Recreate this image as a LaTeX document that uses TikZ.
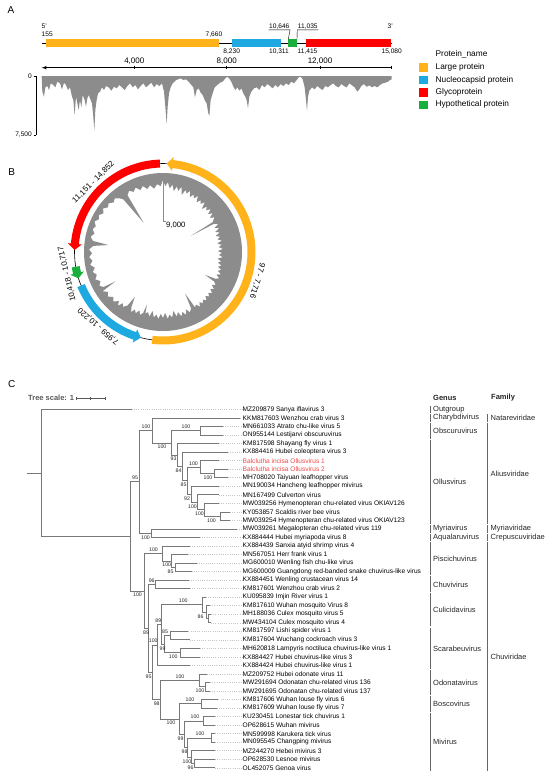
\documentclass[tikz,border=0pt]{standalone}
\usepackage{fontspec}
\setmainfont{Liberation Sans}
\usetikzlibrary{arrows,positioning}
\definecolor{colLarge}{RGB}{255,178,26}
\definecolor{colNucleo}{RGB}{30,170,225}
\definecolor{colGlyco}{RGB}{255,0,0}
\definecolor{colHypo}{RGB}{25,175,60}
\definecolor{covgray}{RGB}{140,140,140}
\definecolor{treegray}{RGB}{120,120,120}
\definecolor{redleaf}{RGB}{240,70,70}

\tikzset{
  panel/.style={font=\fontsize{10}{12}\selectfont, inner sep=0pt},
  small/.style={font=\fontsize{6.6}{7}\selectfont, inner sep=0.5pt},
  axlab/.style={font=\fontsize{8}{9}\selectfont, inner sep=0.5pt},
  legtext/.style={font=\fontsize{8.3}{9}\selectfont, inner sep=0.5pt, anchor=west},
  swatch/.style={minimum width=9pt, minimum height=8.5pt, inner sep=0pt},
  genebox/.style={minimum height=8pt, inner sep=0pt, outer sep=0pt, anchor=west},
  glab/.style={font=\fontsize{8}{9}\selectfont, inner sep=1pt, anchor=south},
  branch/.style={draw=treegray, line width=0.7pt},
  leader/.style={draw=gray!45, line width=0.5pt, dash pattern=on 1pt off 1.2pt},
  leaf/.style={font=\fontsize{6.6}{7}\selectfont, inner sep=0.5pt, anchor=west},
  boot/.style={font=\fontsize{5.2}{6}\selectfont, inner sep=0pt, text=black!85},
  grp/.style={font=\fontsize{7.5}{8}\selectfont, inner sep=0.5pt, anchor=west, text=black!85},
  grpbar/.style={draw=black!60, line width=0.8pt}
}

\begin{document}
\begin{tikzpicture}[x=1pt,y=-1pt]
\useasboundingbox (0,0) rectangle (550,777);

% panel letters
\node[panel] (pA) at (11,10) {A};
\node[panel] (pB) at (11.7,171.7) {B};
\node[panel] (pC) at (11.7,384) {C};

% ---------- A: genome map ----------
\coordinate (g5) at (41.7,43.3);
\coordinate (g3) at (391.7,43.3);
\draw[line width=0.6pt] (g5) -- (g3);
\node[genebox, fill=colLarge, minimum width=173.4pt] (gLarge) at (45.6,43.3) {};
\node[genebox, fill=colNucleo, minimum width=48.2pt] (gNucleo) at (232.3,43.3) {};
\node[genebox, fill=colHypo, minimum width=8.8pt] (gHypo) at (288.2,43.3) {};
\node[genebox, fill=colGlyco, minimum width=85.2pt] (gGlyco) at (305.8,43.3) {};

\node[small, anchor=west] (five) at (41,26) {5'};
\node[small, anchor=west] (s155) at (41,34.3) {155};
\node[small] (s7660) at (214,34.3) {7,660};
\node[small, anchor=east] (three) at (393.5,26) {3'};
\node[small] (s10646) at (279.3,26.5) {10,646};
\node[small] (s11035) at (307.8,26.5) {11,035};
\draw[line width=0.4pt] (s10646.south west) -- (s10646.south east) -- (gHypo.north west);
\draw[line width=0.4pt] (s11035.south east) -- (s11035.south west) -- (gHypo.north east);
\node[small] (s8230) at (231.7,52) {8,230};
\node[small] (s10311) at (279,52) {10,311};
\node[small] (s11415) at (307.5,52) {11,415};
\node[small] (s15080) at (391.7,52) {15,080};

% position axis
\coordinate (ax0) at (41.7,67.7);
\coordinate (ax1) at (391.7,67.7);
\draw[latex-, line width=0.6pt] (ax0) -- (ax1);
\foreach \x/\lab in {134.3/{4,000}, 226.7/{8,000}, 320/{12,000}} {
  \draw[line width=0.5pt] (\x,65.5) -- (\x,68.5);
  \node[axlab] at (\x,61.2) {\lab};
}
\draw[line width=0.5pt] (391.7,65.5) -- (391.7,68.5);

% coverage
\begin{scope}[xscale=1/3, yscale=1/3]
\fill[covgray] (125,228) -- (127,275) -- (132,290) -- (136,262) -- (142,258) -- (147,270) -- (152,250)
  -- (160,255) -- (166,262) -- (172,245) -- (180,250) -- (186,268) -- (192,248) -- (198,255)
  -- (204,270) -- (210,262) -- (216,290) -- (220,300) -- (224,345) -- (228,290) -- (232,310)
  -- (236,330) -- (240,300) -- (244,322) -- (248,285) -- (254,300) -- (258,320) -- (262,295)
  -- (266,285) -- (272,300) -- (276,310) -- (280,350) -- (283,392) -- (286,330) -- (290,300)
  -- (294,280) -- (300,275) -- (306,262) -- (312,270) -- (318,258) -- (326,262) -- (334,272)
  -- (342,260) -- (350,265) -- (358,255) -- (366,262) -- (374,270) -- (382,258) -- (390,250)
  -- (398,262) -- (406,255) -- (414,268) -- (422,258) -- (430,250) -- (438,262) -- (446,255)
  -- (454,248) -- (462,262) -- (470,252) -- (478,258) -- (486,250) -- (492,275) -- (496,320)
  -- (500,372) -- (503,320) -- (507,280) -- (512,262) -- (518,250) -- (526,242) -- (534,238)
  -- (542,235) -- (550,240) -- (558,238) -- (566,245) -- (574,255) -- (580,262) -- (585,292)
  -- (590,270) -- (596,265) -- (602,278) -- (608,285) -- (614,300) -- (620,310) -- (625,340)
  -- (628,348) -- (632,300) -- (638,280) -- (644,262) -- (652,255) -- (660,248) -- (668,245)
  -- (676,235) -- (682,230) -- (688,236) -- (694,245) -- (700,260) -- (706,270) -- (712,262)
  -- (718,272) -- (724,265) -- (730,280) -- (736,290) -- (740,300) -- (744,325) -- (748,290)
  -- (754,275) -- (762,265) -- (770,262) -- (778,270) -- (786,255) -- (794,262) -- (802,252)
  -- (810,258) -- (818,265) -- (826,255) -- (834,262) -- (842,252) -- (850,258) -- (858,250)
  -- (866,255) -- (874,245) -- (882,250) -- (890,240) -- (896,232) -- (902,230) -- (908,238)
  -- (914,262) -- (918,300) -- (921,332) -- (924,290) -- (928,272) -- (936,262) -- (944,268)
  -- (952,258) -- (960,265) -- (968,270) -- (976,258) -- (984,262) -- (992,255) -- (1000,250)
  -- (1008,258) -- (1016,262) -- (1024,252) -- (1032,258) -- (1040,262) -- (1048,250)
  -- (1056,256) -- (1064,262) -- (1072,275) -- (1078,268) -- (1084,258) -- (1092,252)
  -- (1100,260) -- (1108,256) -- (1116,262) -- (1124,258) -- (1132,262) -- (1140,255)
  -- (1148,250) -- (1156,248) -- (1164,245) -- (1170,240) -- (1175,238) -- (1175,228) -- cycle;
\end{scope}
\coordinate (cv0) at (36,76);
\coordinate (cv1) at (36,135);
\draw[line width=0.6pt] (cv0) -- (cv1);
\draw[line width=0.6pt] (33.5,76) -- (cv0);
\draw[line width=0.6pt] (33.5,135) -- (cv1);
\node[small, anchor=east] (c0) at (32.5,76) {0};
\node[small, anchor=east] (c7500) at (32.5,134.5) {7,500};

% legend
\node[legtext] (legT) at (435,54) {Protein\_name};
\node[swatch, fill=colLarge] (swLarge) at (423.8,67.5) {};
\node[swatch, fill=colNucleo] (swNucleo) at (423.8,80.2) {};
\node[swatch, fill=colGlyco] (swGlyco) at (423.8,92.6) {};
\node[swatch, fill=colHypo] (swHypo) at (423.8,104.8) {};
\node[legtext, right=6.5pt of swLarge] (tLarge) {Large protein};
\node[legtext, right=6.5pt of swNucleo] (tNucleo) {Nucleocapsid protein};
\node[legtext, right=6.5pt of swGlyco] (tGlyco) {Glycoprotein};
\node[legtext, right=6.5pt of swHypo] (tHypo) {Hypothetical protein};

% ---------- B: circular map ----------
\begin{scope}[shift={(163,252)}, yscale=-1]
\fill[covgray, even odd rule] (0,0) circle[radius=79] (90:72)
  \foreach \a/\r in {88/66, 86/70, 84/64, 82/68, 80/62, 78/67, 76/63, 74/68, 72/60, 70/66,
    68/63, 66/67, 64/61, 62/65, 60/62, 58/66, 56/60, 54/64, 52/61, 50/65, 48/58, 46/63,
    44/60, 42/64, 40/59, 38/63, 36/58, 34/62, 31/58, 30/32, 29/58, 27/62, 25/57, 23/61,
    21/56, 19/60, 17/55, 15/59, 13/56, 11/60, 9/55, 7/59, 5/56, 3/60, 1/55, -1/59, -3/56,
    -5/60, -7/55, -9/59, -11/56, -13/60, -15/57, -17/61, -19/58, -21/62, -23/58, -25/62,
    -27/59, -28.5/48, -30/59, -32/62, -34/59, -36/63, -38/60, -40/64, -42/61, -44/64,
    -46/61, -48/65, -50/62, -52/65, -54/62, -56/66, -58/62, -60/64, -62/47, -63.5/63,
    -66/66, -68/62, -70/67, -72/63, -74/67, -76/62, -78/66, -80/60, -82/66, -84/63,
    -86/67, -88/61, -90/66, -92/62, -94/67, -96/63, -98/66, -100/60, -102/66, -104/62,
    -106/64, -107/55, -108/64, -110/67, -112/63, -114/67, -116/64, -118/68, -120/63,
    -122/53, -123.5/64, -126/68, -128/65, -130/70, -132/66, -135/70, -138/67, -141/71,
    -144/68, -147/72, -148.3/56, -149.5/69, -152/72, -155/69, -158/73, -161/70, -164/73,
    -167/70, -170/74, -173/71, -176/74, -179/71, -182/74, -185/70, -187.3/55, -189/71,
    -192/74, -195/71, -198/74, -201/72, -204/75, -207/72, -210/74, -213/71, -216/74,
    -219/71, -222/73, -225/70, -228/72, -231/69, -233/66, -236.5/35, -238/67, -241/70,
    -244/67, -247/70, -250/66, -253/69, -256/65, -259/68, -262/64, -265/68, -268/66} { -- (\a:\r) }
  -- cycle;
\draw[black!45, line width=0.5pt] (90:79) -- (90:31) -- (2.5,31);
\node[font=\fontsize{7.7}{8}\selectfont, inner sep=0.5pt, anchor=west] (ax9000) at (2.5,27) {9,000};
\draw[line width=0.6pt] (0,0) circle[radius=88.5];
\fill[colLarge] (-97:84.5) arc[start angle=-97, end angle=83.6, radius=84.5] -- (83.6:81.5)
  -- (87.6:88.5) -- (83.6:95.5) -- (83.6:92.5) arc[start angle=83.6, end angle=-97, radius=92.5] -- cycle;
\fill[colGlyco] (92:84.5) arc[start angle=92, end angle=174.7, radius=84.5] -- (174.7:81.5)
  -- (178.7:88.5) -- (174.7:95.5) -- (174.7:92.5) arc[start angle=174.7, end angle=92, radius=92.5] -- cycle;
\fill[colHypo] (189.6:84.5) arc[start angle=189.6, end angle=193.8, radius=84.5] -- (193.8:81.5)
  -- (197.3:88.5) -- (193.8:95.5) -- (193.8:92.5) arc[start angle=193.8, end angle=189.6, radius=92.5] -- cycle;
\fill[colNucleo] (202.3:84.5) arc[start angle=202.3, end angle=251.5, radius=84.5] -- (251.5:81.5)
  -- (255.5:88.5) -- (251.5:95.5) -- (251.5:92.5) arc[start angle=251.5, end angle=202.3, radius=92.5] -- cycle;
\node[glab, rotate=45] (bGlyco) at (135:94) {11,151 - 14,852};
\node[glab, rotate=103] (bHypo) at (193:94) {10,418 - 10,717};
\node[glab, rotate=139] (bNucleo) at (-131:94) {7,959 - 10,220};
\node[glab, rotate=-107] (bLarge) at (-17:94) {97 - 7,716};
\end{scope}

% ---------- C: tree ----------
\node[font=\bfseries\fontsize{7.5}{8}\selectfont, text=black!65, inner sep=0.5pt, anchor=west] (tscale) at (27.5,398.3) {Tree scale: 1};
\coordinate (sb0) at (76.5,398.3);
\coordinate (sb1) at (105,398.3);
\draw[black!65, line width=0.6pt] (sb0) -- (sb1);
\foreach \x in {76.5,90.7,105} \draw[black!65, line width=0.6pt] (\x,396.8) -- (\x,399.8);

\node[grp, font=\bfseries\fontsize{7.5}{8}\selectfont] (hGenus) at (432.5,397.5) {Genus};
\node[grp, font=\bfseries\fontsize{7.5}{8}\selectfont] (hFamily) at (490.5,397.5) {Family};

% leaves
\foreach \i/\tip/\c/\name in {
  1/131.7/black/MZ209879 Sanya iflavirus 3,
  2/240/black/KKM817603 Wenzhou crab virus 3,
  3/223/black/MN661033 Atrato chu-like virus 5,
  4/223/black/ON955144 Lestijarvi obscuruvirus,
  5/219/black/KM817598 Shayang fly virus 1,
  6/228/black/KX884416 Hubei coleoptera virus 3,
  7/219/redleaf/Balclutha incisa Ollusvirus 1,
  8/228/redleaf/Balclutha incisa Ollusvirus 2,
  9/228/black/MH708020 Taiyuan leafhopper virus,
  10/219/black/MN190034 Hancheng leafhopper mivirus,
  11/219/black/MN167499 Culverton virus,
  12/219/black/MW039256 Hymenopteran chu-related virus OKIAV126,
  13/230/black/KY053857 Scaldis river bee virus,
  14/230/black/MW039254 Hymenopteran chu-related virus OKIAV123,
  15/236.7/black/MW039261 Megalopteran chu-related virus 119,
  16/200/black/KX884444 Hubei myriapoda virus 8,
  17/190/black/KX884439 Sanxia atyid shrimp virus 4,
  18/187.7/black/MN567051 Herr frank virus 1,
  19/196.7/black/MG600010 Wenling fish chu-like virus,
  20/191.7/black/MG600009 Guangdong red-banded snake chuvirus-like virus,
  21/189/black/KX884451 Wenling crustacean virus 14,
  22/190/black/KM817601 Wenzhou crab virus 2,
  23/206/black/KU095839 Imjin River virus 1,
  24/210/black/KM817610 Wuhan mosquito Virus 8,
  25/211/black/MH188036 Culex mosquito virus 5,
  26/211/black/MW434104 Culex mosquito virus 4,
  27/188.3/black/KM817597 Lishi spider virus 1,
  28/190/black/KM817604 Wuchang cockroach virus 3,
  29/200/black/MH620818 Lampyris noctiluca chuvirus-like virus 1,
  30/200/black/KX884427 Hubei chuvirus-like virus 3,
  31/190/black/KX884424 Hubei chuvirus-like virus 1,
  32/206.7/black/MZ209752 Hubei odonate virus 11,
  33/210/black/MW291694 Odonatan chu-related virus 136,
  34/210/black/MW291695 Odonatan chu-related virus 137,
  35/218.3/black/KM817606 Wuhan louse fly virus 6,
  36/216.7/black/KM817609 Wuhan louse fly virus 7,
  37/215/black/KU230451 Lonestar tick chuvirus 1,
  38/215/black/OP628615 Wuhan mivirus,
  39/215/black/MN599998 Karukera tick virus,
  40/215/black/MN095545 Changping mivirus,
  41/215/black/MZ244270 Hebei mivirus 3,
  42/215/black/OP628530 Lesnoe mivirus,
  43/215/black/OL452075 Genoa virus} {
  \coordinate (t\i) at (\tip,{409.5+(\i-1)*8.53});
  \node[leaf, text=\c] (l\i) at (242,{409.5+(\i-1)*8.53}) {\name};
  \draw[leader] (t\i) -- (l\i.west);
}

% internal nodes
\foreach \n/\x/\y in {root/41/472.93, I0/130.7/536.36, N95/139.5/481.83, A/152.3/430.47,
  B/171.7/442.92, O/200/430.83, C/177.7/455.02, D/182.7/466.41, E/187.7/480.67,
  F/200/467.08, G/214/473.48, H/191.7/494.27, I/197.3/502.27, J/204/509.73, K/220/516.13,
  P/151.7/533.19, M/144.3/590.89, Pi/162.7/553.45, Pj/171.7/560.91, Pk/175/567.31,
  L/148/628.32, Ch/155.7/584.37, L2/152/672.27, X1/157/644.88, Y/161/624.36,
  Cu/202.7/604.63, Cu2/206/612.09, Cu3/208.5/618.49, Sc3/164/644.08, Sc1/170/635.55,
  Sc2/180/652.61, OdBM/160/699.66, Od/199/680.33, Od2/205/686.73, BoMi/179/718.99,
  Bo/201.7/703.79, Mi6/184.3/734.18, Mi1/203.3/720.85, Mi5/187.3/747.51, Mi2/211/737.91,
  Mi3/191.7/757.10, Mi4/194.3/763.50}
  \coordinate (\n) at (\x,\y);
\coordinate (rs) at (27,472.93);
\draw[branch] (rs) -- (root);

\foreach \p/\c in {root/t1, root/I0, I0/N95, I0/M, N95/A, N95/P, A/t2, A/B, B/O, B/C,
  O/t3, O/t4, C/t5, C/D, D/t6, D/E, E/F, E/H, F/t7, F/G, G/t8, G/t9, H/t10, H/I,
  I/t11, I/J, J/t12, J/K, K/t13, K/t14, P/t15, P/t16, M/Pi, M/L, Pi/t17, Pi/Pj,
  Pj/t18, Pj/Pk, Pk/t19, Pk/t20, L/Ch, L/L2, Ch/t21, Ch/t22, L2/X1, L2/OdBM,
  X1/Y, X1/t31, Y/Cu, Y/Sc3, Cu/t23, Cu/Cu2, Cu2/t24, Cu2/Cu3, Cu3/t25, Cu3/t26,
  Sc3/Sc1, Sc3/Sc2, Sc1/t27, Sc1/t28, Sc2/t29, Sc2/t30, OdBM/Od, OdBM/BoMi,
  Od/t32, Od/Od2, Od2/t33, Od2/t34, BoMi/Bo, BoMi/Mi6, Bo/t35, Bo/t36,
  Mi6/Mi1, Mi6/Mi5, Mi1/t37, Mi1/t38, Mi5/Mi2, Mi5/Mi3, Mi2/t39, Mi2/t40,
  Mi3/t41, Mi3/Mi4, Mi4/t42, Mi4/t43}
  \draw[branch] (\p) |- (\c);

% support values
\foreach \x/\y/\v [count=\k] in {135/478.0/95, 146/426.7/100, 145.5/537.4/100, 162/447.1/100,
  186/427.0/100, 173.5/459.2/93, 178.5/470.6/84, 183.5/484.9/85, 193.5/463.3/100,
  208/477.7/100, 187/498.5/92, 192.5/506.5/100, 199.5/513.9/100, 211.5/520.3/100,
  137.5/595.1/100, 153.5/549.7/100, 166.7/565.1/100, 170.5/571.5/85, 151.7/580.6/96,
  146/632.5/89, 183.3/600.8/100, 200.5/616.3/86, 158.3/620.6/89, 162.5/648.3/99,
  165/631.7/85, 173.3/656.8/100, 153.3/641.1/100, 148.5/676.5/95, 180/676.5/100,
  200/690.9/100, 156.7/703.9/98, 190/700.0/100, 171/723.2/100, 195/717.0/100,
  180.5/738.4/99, 200/734.1/100, 184.5/751.7/98, 187/761.3/100, 190.5/767.7/96}
  \node[boot] (s\k) at (\x,\y) {\v};

% genus column
\foreach \a/\b/\name [count=\k] in {1/1/Outgroup, 2/2/Charybdivirus, 3/4/Obscuruvirus,
  5/14/Ollusvirus, 15/15/Myriavirus, 16/16/Aqualaruvirus, 17/20/Piscichuvirus,
  21/22/Chuvivirus, 23/26/Culicidavirus, 27/31/Scarabeuvirus, 32/34/Odonatavirus,
  35/36/Boscovirus, 37/43/Mivirus} {
  \coordinate (gt\k) at (430,{409.5+(\a-1)*8.53-3.7});
  \coordinate (gb\k) at (430,{409.5+(\b-1)*8.53+3.7});
  \draw[grpbar] (gt\k) -- (gb\k);
  \node[grp] (gn\k) at (432.5,{409.5+(\a+\b-2)*8.53/2}) {\name};
}

% family column
\foreach \a/\b/\name [count=\k] in {2/2/Natareviridae, 3/14/Aliusviridae, 15/15/Myriaviridae,
  16/16/Crepuscuviridae, 17/43/Chuviridae} {
  \coordinate (ft\k) at (487.5,{409.5+(\a-1)*8.53-3.7});
  \coordinate (fb\k) at (487.5,{409.5+(\b-1)*8.53+3.7});
  \draw[grpbar] (ft\k) -- (fb\k);
  \node[grp] (fn\k) at (490,{409.5+(\a+\b-2)*8.53/2}) {\name};
}
\end{tikzpicture}
\end{document}
